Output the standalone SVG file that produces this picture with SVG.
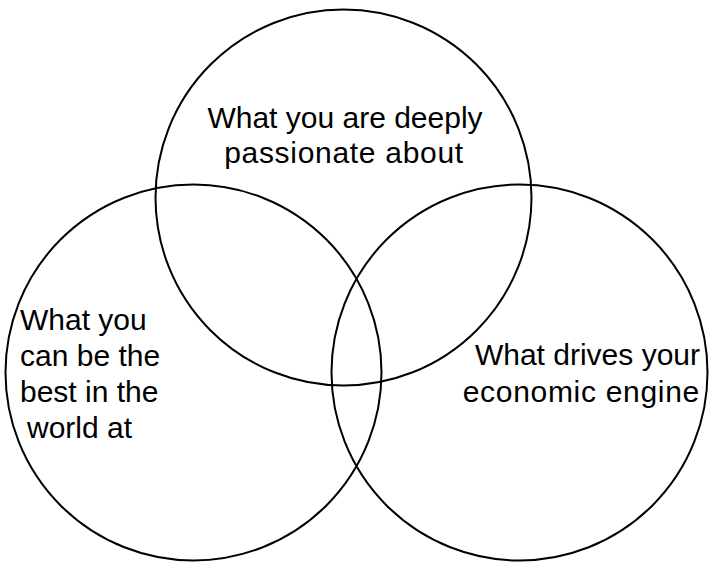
<svg xmlns="http://www.w3.org/2000/svg" width="717" height="573" viewBox="0 0 717 573">
<style>
.c{fill:none;stroke:#000;stroke-width:2}
.t{font-family:"Liberation Sans",Arial,sans-serif;font-size:30px;fill:#000}
.w{letter-spacing:0.7px}
</style>
<rect width="717" height="573" fill="#fff"/>
<g id="top">
<circle class="c" cx="343.5" cy="197.5" r="188"/>
<text class="t" x="345" y="128" text-anchor="middle">What you are deeply</text>
<text class="t w" x="344" y="163" text-anchor="middle">passionate about</text>
</g>
<g id="left">
<circle class="c" cx="193.5" cy="372.5" r="188"/>
<text class="t" x="20" y="330">What you</text>
<text class="t" x="20" y="366">can be the</text>
<text class="t" x="20" y="402">best in the</text>
<text class="t" x="27" y="438">world at</text>
</g>
<g id="right">
<circle class="c" cx="519.5" cy="372.5" r="188"/>
<text class="t" x="700" y="365" text-anchor="end">What drives your</text>
<text class="t w" x="700" y="402" text-anchor="end">economic engine</text>
</g>
<g id="connectors"/>
</svg>
